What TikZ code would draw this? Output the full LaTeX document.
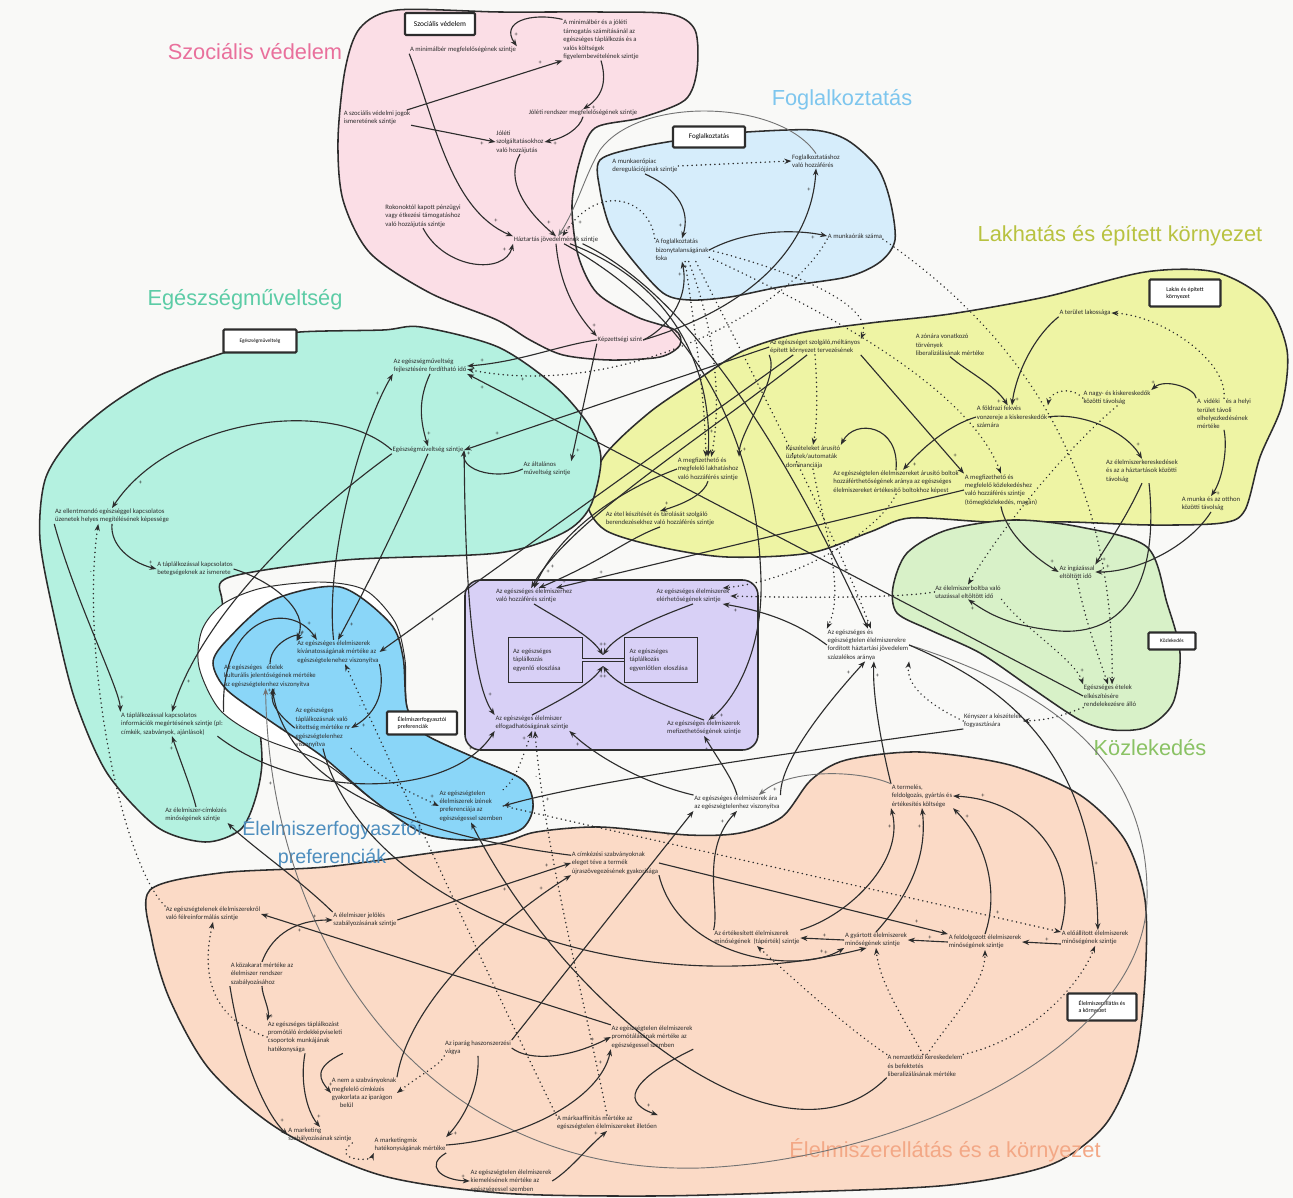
\documentclass[tikz,border=0pt]{standalone}
\usepackage{fontspec}
\setmainfont{Carlito}
\newfontfamily\ttlfont{Liberation Sans}
\usetikzlibrary{arrows.meta}

\definecolor{bgc}{RGB}{249,249,247}
\definecolor{pinkreg}{RGB}{251,222,230}
\definecolor{fogreg}{RGB}{214,237,251}
\definecolor{lakreg}{RGB}{238,244,164}
\definecolor{kozreg}{RGB}{216,241,200}
\definecolor{egreg}{RGB}{180,241,224}
\definecolor{prefreg}{RGB}{138,214,248}
\definecolor{purreg}{RGB}{216,208,246}
\definecolor{ellreg}{RGB}{251,218,198}
\definecolor{pinkttl}{RGB}{233,112,156}
\definecolor{fogttl}{RGB}{126,198,238}
\definecolor{lakttl}{RGB}{184,194,64}
\definecolor{egttl}{RGB}{92,204,166}
\definecolor{prefttl}{RGB}{78,142,190}
\definecolor{kozttl}{RGB}{138,194,100}
\definecolor{ellttl}{RGB}{243,168,134}
\definecolor{ink}{RGB}{45,45,45}

\newcommand\nfont{\fontsize{9.5}{12}\selectfont}
\newcommand\tfont{\ttlfont\fontsize{31}{41}\selectfont}
\newcommand\sgfont{\fontsize{9}{9}\selectfont}

\tikzset{
  nd/.style={font=\nfont, align=left, inner sep=1pt, text=ink},
  ttl/.style={font=\tfont, align=center, inner sep=0pt},
  lbl/.style={draw=ink, line width=3pt, fill=white, rounded corners=1.5pt, font=\fontsize{9}{11}\selectfont, align=left, inner sep=3pt},
  reg/.style={draw=ink, line width=2.2pt},
  ar/.style={draw=ink, line width=1.6pt, -{Stealth[length=10pt,width=7.5pt]}},
  dar/.style={ar, dash pattern=on 0.01pt off 6.5pt, line cap=round, line width=2.4pt},
  gar/.style={ar, draw=black!55, line width=1.3pt},
  sg/.style={pos=.88, auto, font=\sgfont, inner sep=2pt, text=ink},
}

\begin{document}
\begin{tikzpicture}[x=0.05cm, y=-0.05cm]
	%%%%% START %%%%%
	\useasboundingbox (0,0) rectangle (1293,1198);
	\fill[bgc] (0,0) rectangle (1293,1198);

	%%%%% regions %%%%%
	\draw[reg, fill=pinkreg] plot[smooth cycle] coordinates {(397,10) (500,12) (600,12) (670,14) (695,30) (697,70) (685,100) (640,118) (595,128) (580,160) (572,205) (578,255) (597,293) (637,317) (675,330) (680,345) (660,357) (610,360) (563,355) (530,340) (497,320) (430,293) (370,253) (343,200) (338,140) (345,70) (360,28)};
	\draw[reg, fill=fogreg] plot[smooth cycle] coordinates {(600,160) (640,147) (700,137) (747,132) (813,130) (847,140) (877,167) (890,200) (895,240) (880,262) (847,277) (780,287) (730,297) (690,300) (663,293) (630,257) (610,227) (600,190)};
	\draw[reg, fill=lakreg] plot[smooth cycle] coordinates {(587,500) (605,455) (650,412) (700,378) (745,350) (800,333) (870,323) (950,314) (1045,297) (1145,272) (1215,272) (1265,300) (1287,350) (1282,405) (1260,457) (1245,510) (1222,523) (1150,525) (1070,522) (990,522) (910,518) (870,532) (810,553) (727,557) (660,547) (605,530)};
	\draw[reg, fill=kozreg] plot[smooth cycle] coordinates {(893,587) (907,553) (947,530) (1013,520) (1080,527) (1147,547) (1167,603) (1180,653) (1173,703) (1147,727) (1113,730) (1080,720) (1030,687) (980,653) (930,630) (897,613)};
	\draw[reg, fill=ellreg] plot[smooth cycle] coordinates {(150,890) (220,873) (325,867) (431,853) (501,843) (536,832) (600,827) (688,835) (740,833) (782,817) (811,780) (846,760) (920,752) (1010,765) (1080,795) (1125,840) (1145,900) (1145,980) (1135,1060) (1105,1125) (1050,1165) (950,1185) (800,1192) (650,1196) (500,1193) (380,1175) (280,1130) (210,1070) (170,1000) (152,940)};
	\draw[reg, fill=egreg] plot[smooth cycle] coordinates {(226,352) (260,340) (300,332) (383,330) (421,327) (498,347) (556,387) (590,427) (601,460) (590,507) (563,533) (498,553) (345,560) (230,577) (222,600) (235,650) (255,700) (262,760) (255,800) (240,830) (205,842) (157,827) (107,773) (75,700) (55,620) (40,540) (45,480) (70,440) (110,405) (160,375)};
	\draw[reg, line width=1.4pt, fill=white] plot[smooth cycle] coordinates {(199,667) (202,630) (223,604) (262,588) (320,582) (365,590) (395,622) (405,660) (407,707) (423,733) (473,757) (523,780) (533,807) (520,830) (473,840) (423,833) (373,800) (323,762) (262,738) (220,710)};
	\draw[reg, fill=prefreg] plot[smooth cycle] coordinates {(213,663) (227,640) (273,600) (340,587) (390,623) (403,657) (407,707) (423,733) (473,757) (523,780) (533,807) (520,830) (473,840) (423,833) (373,800) (323,757) (273,723) (227,690)};
	\draw[reg, fill=purreg, rounded corners=22pt] (465,580) rectangle (758,750);

	%%%%% titles %%%%%
	\node[ttl, text=pinkttl] (tSV) at (255,52) {Szociális védelem};
	\node[ttl, text=fogttl] (tF) at (842,100) {Foglalkoztatás};
	\node[ttl, text=lakttl] (tL) at (1120,236) {Lakhatás és épített környezet};
	\node[ttl, text=egttl] (tE) at (245,300) {Egészségműveltség};
	\node[ttl, text=prefttl, font=\ttlfont\fontsize{28}{41}\selectfont] (tB) at (332,843) {Élelmiszerfogyasztói\\preferenciák};
	\node[ttl, text=kozttl] (tK) at (1150,748) {Közlekedés};
	\node[ttl, text=ellttl] (tQ) at (945,1150) {Élelmiszerellátás és a környezet};

	%%%%% boxes %%%%%
	\node[lbl, font=\fontsize{10.5}{12}\selectfont, minimum width=3.5cm, minimum height=1.1cm] (boxSV) at (440,24) {Szociális védelem};
	\node[lbl, font=\fontsize{10}{12}\selectfont, minimum width=3.6cm, minimum height=1.05cm] (boxF) at (709,137) {Foglalkoztatás};
	\node[lbl, font=\fontsize{8.5}{10}\selectfont, minimum width=3.55cm, minimum height=1.35cm] (boxL) at (1185,293) {Lakás és épített\\környezet};
	\node[lbl, font=\fontsize{7.5}{9}\selectfont, minimum width=3.65cm, minimum height=1.15cm] (boxE) at (260,341) {Egészségműveltség};
	\node[lbl, font=\fontsize{8.5}{10}\selectfont, minimum width=3.5cm, minimum height=1.15cm] (boxB) at (422,723) {Élelmiszerfogyasztói\\preferenciák};
	\node[lbl, font=\fontsize{7.5}{9}\selectfont, minimum width=2.35cm, minimum height=0.85cm] (boxK) at (1172,641) {Közlekedés};
	\node[lbl, font=\fontsize{8.5}{10}\selectfont, minimum width=3.45cm, minimum height=1.35cm] (boxQ) at (1102,1007) {Élelmiszerellátás és\\a környezet};

	%%%%% Szociális védelem %%%%%
	\node[nd] (s1) at (463,50) {A minimálbér megfelelőségének szintje};
	\node[nd] (s2) at (601,40) {A minimálbér és a jóléti\\támogatás számításánál az\\egészséges táplálkozás és a\\valós költségek\\figyelembevételének szintje};
	\node[nd] (s3) at (377,118) {A szociális védelmi jogok\\ismeretének szintje};
	\node[nd] (s4) at (583,113) {Jóléti rendszer megfelelőségének szintje};
	\node[nd] (s5) at (520,142) {Jóléti\\szolgáltatásokhoz\\való hozzájutás};
	\node[nd] (s6) at (423,216) {Rokonoktól kapott pénzügyi\\vagy étkezési támogatáshoz\\való hozzájutás szintje};
	\node[nd] (s7) at (556,240) {Háztartás jövedelmének szintje};
	\node[nd] (s8) at (620,340) {Képzettségi szint};

	%%%%% Foglalkoztatás %%%%%
	\node[nd] (f1) at (645,166) {A munkaerőpiac\\deregulációjának szintje};
	\node[nd] (f2) at (816,161) {Foglalkoztatáshoz\\való hozzáférés};
	\node[nd] (f3) at (682,250) {A foglalkoztatás\\bizonytalanságának\\foka};
	\node[nd] (f4) at (855,236) {A munkaórák száma};

	%%%%% Lakhatás %%%%%
	\node[nd] (l1) at (1085,313) {A terület lakossága};
	\node[nd] (l2) at (815,347) {Az egészséget szolgáló,méltányos\\épített környezet tervezésének};
	\node[nd] (l3) at (950,345) {A zónára vonatkozó\\törvények\\liberalizálásának mértéke};
	\node[nd] (l4) at (1012,417) {A földrazi fekvés\\vonzereje a kiskereskedők\\számára};
	\node[nd] (l5) at (1117,398) {A nagy- és kiskereskedők\\közötti távolság};
	\node[nd] (l6) at (1224,414) {A~~vidéki~~~~és a helyi\\terület távoli\\elhelyezkedésének\\mértéke};
	\node[nd] (l7) at (813,457) {Készételeket árusító\\üzletek/automaták\\dominanciája};
	\node[nd] (l8) at (896,482) {Az egészségtelen élelmiszereket árusító boltok\\hozzáférthetőségének aránya az egészséges\\élelmiszereket értékesítő boltokhoz képest};
	\node[nd] (l9) at (1001,490) {A megfizethető és\\megfelelő közlekedéshez\\való hozzáférés szintje\\(tömegközlekedés, magán)};
	\node[nd] (l10) at (1142,471) {Az élelmiszerkereskedések\\és az a háztartások közötti\\távolság};
	\node[nd] (l11) at (1211,504) {A munka és az otthon\\közötti távolság};
	\node[nd] (l12) at (708,469) {A megfizethető és\\megfelelő lakhatáshoz\\való hozzáférés szintje};
	\node[nd] (l13) at (660,519) {Az étel készítését és tárolását szolgáló\\berendezésekhez való hozzáférés szintje};

	%%%%% Egészségműveltség %%%%%
	\node[nd] (e1) at (430,366) {Az egészségműveltség\\fejlesztésére fordítható idő};
	\node[nd] (e2) at (428,450) {Egészségműveltség szintje};
	\node[nd] (e3) at (547,469) {Az általános\\műveltség szintje};
	\node[nd] (e4) at (112,516) {Az ellentmondó egészséggel kapcsolatos\\üzenetek helyes megítélésének képessége};
	\node[nd] (e5) at (195,569) {A táplálkozással kapcsolatos\\betegségeknek az ismerete};
	\node[nd] (e6) at (172,724) {A táplálkozással kapcsolatos\\információk megértésének szintje (pl:\\címkék, szabványok, ajánlások)};
	\node[nd] (e7) at (196,815) {Az élelmiszer-címkézés\\minőségének szintje};

	%%%%% Élelmiszerfogyasztói preferenciák %%%%%
	\node[nd] (b1) at (338,652) {Az egészséges élelmiszerek\\kívánatosságának mértéke az\\egészségtelenehez viszonyítva};
	\node[nd] (b2) at (270,676) {Az egészséges~~~ételek\\kulturális jelentőségének mértéke\\az egészségtelenhez viszonyítva};
	\node[nd] (b3) at (323,728) {Az egészséges\\táplálkozásnak való\\kitettség mértéke nr\\egészségtelenhez\\viszonyítva};
	\node[nd] (b4) at (471,806) {Az egészségtelen\\élelmiszerek ízének\\preferenciája az\\egészségessel szemben};

	%%%%% kozep %%%%%
	\node[nd] (p1) at (534,596) {Az egészséges élelmiszerhez\\való hozzáférés szintje};
	\node[nd] (p2) at (693,596) {Az egészséges élelmiszerek\\elérhetőségének szintje};
	\node[nd] (p3) at (532,723) {Az egészséges élelmiszer\\elfogadhatóságának szintje};
	\node[nd] (p4) at (704,728) {Az egészséges élelmiszerek\\mefizethetőségének szintje};
	\node[nd, draw=ink, line width=1.2pt, text width=3.2cm, inner xsep=0.25cm, inner ysep=0pt, minimum height=2.25cm] (pa) at (545,660) {Az egészséges\\táplálkozás\\egyenlő eloszlása};
	\node[nd, draw=ink, line width=1.2pt, text width=3.15cm, inner xsep=0.25cm, inner ysep=0pt, minimum height=2.25cm] (pb) at (661,660) {Az egészséges\\táplálkozás\\egyenlőtlen eloszlása};
	\coordinate (pcu) at (603,655);
	\coordinate (pcd) at (603,666);
	\draw[ink, double=purreg, double distance=3.5pt, line width=1pt] (pa.east) -- (pb.west);

	%%%%% Közlekedés %%%%%
	\node[nd] (g1) at (1077,572) {Az ingázással\\eltöltött idő};
	\node[nd] (g2) at (968,592) {Az élelmiszerboltba való\\utazással eltöltött idő};
	\node[nd] (g3) at (1110,696) {Egészséges ételek\\elkészítésére\\rendelekezésre álló};
	\node[nd] (k1) at (993,721) {Kényszer a készételek\\fogyasztására};
	\node[nd] (x1) at (868,645) {Az egészséges és\\egészségtelen élelmiszerekre\\fordított háztartási jövedelem\\százalékos aránya};

	%%%%% Élelmiszerellátás %%%%%
	\node[nd] (q1) at (737,803) {Az egészséges élelmiszerek ára\\az egészségtelenhez viszonyítva};
	\node[nd] (q2) at (922,796) {A termelés,\\feldolgozás, gyártás és\\értékesítés költsége};
	\node[nd] (q3) at (615,863) {A címkézési szabványoknak\\eleget téve a termék\\újraszövegezésének gyakorisága};
	\node[nd] (q4) at (757,938) {Az értékesített élelmiszerek\\minőségének~~(tápérték) szintje};
	\node[nd] (q5) at (876,940) {A gyártott élelmiszerek\\minőségének szintje};
	\node[nd] (q6) at (985,942) {A feldolgozott élelmiszerek\\minőségének szintje};
	\node[nd] (q7) at (1095,938) {A előállított élelmiszerek\\minőségének szintje};
	\node[nd] (q8) at (925,1066) {A nemzetközi kereskedelem\\és befektetés\\liberalizálásának mértéke};
	\node[nd] (q9) at (652,1037) {Az egészségtelen élelmiszerek\\promótálásának mértéke az\\egészségessel szemben};
	\node[nd] (r1) at (213,914) {Az egészségtelenek élelmiszerekről\\való félreinformálás szintje};
	\node[nd] (r2) at (365,920) {A élelmiszer jelölés\\szabályozásának szintje};
	\node[nd] (r3) at (262,974) {A közakarat mértéke az\\élelmiszer rendszer\\szabályozásához};
	\node[nd] (r4) at (305,1037) {Az egészséges táplálkozást\\promótáló érdekképviseleti\\csoportok munkájának\\hatékonysága};
	\node[nd] (r5) at (478,1048) {Az iparág haszonszerzési\\vágya};
	\node[nd] (r6) at (364,1093) {A nem a szabványoknak\\megfelelő címkézés\\gyakorlata az iparágon\\\hspace{1.2em}belül};
	\node[nd] (r7) at (320,1135) {A marketing\\szabályozásának szintje};
	\node[nd] (r8) at (410,1145) {A marketingmix\\hatékonyságának mértéke};
	\node[nd] (r9) at (607,1123) {A márkaaffinitás mértéke az\\egészségtelen élelmiszereket illetően};
	\node[nd] (r10) at (511,1181) {Az egészségtelen élelmiszerek\\kiemelésének mértéke az\\egészségessel szemben};

	%%%%% connectors: szocialis %%%%%
	\draw[ar] (s2.north west) .. controls (530,12) and (500,22) .. (s1.north east) node[sg]{+};
	\draw[ar] (s3.15) -- (s2.south west) node[sg]{+};
	\draw[ar] (s3.-12) -- (s5.west) node[sg,swap]{+};
	\draw[ar] (s2.south) .. controls (606,78) and (605,95) .. (s4.north) node[sg]{+};
	\draw[ar] (s4.south) .. controls (580,128) and (565,138) .. (s5.east) node[sg]{+};
	\draw[ar] (s1.south west) .. controls (435,120) and (450,210) .. (s7.north west) node[sg]{+};
	\draw[ar] (s5.south) .. controls (505,180) and (525,210) .. (s7.north) node[sg]{+};
	\draw[ar] (s6.south) .. controls (445,270) and (505,275) .. (s7.south west) node[sg]{+};
	\draw[gar] (f2.north) .. controls (780,100) and (640,95) .. (600,150) .. controls (585,175) and (578,205) .. (s7.60) node[sg]{+};
	\draw[dar] (f3.north west) .. controls (650,200) and (600,180) .. (s7.30) node[sg]{+};
	\draw[ar] (s7.south) .. controls (560,290) and (580,318) .. (s8.north west) node[sg]{+};
	\draw[ar] (s7.-15) .. controls (690,290) and (712,390) .. (l12.north) node[sg]{+};
	\draw[ar] (s7.-25) .. controls (720,330) and (758,470) .. (761,580) .. controls (763,650) and (735,700) .. (p4.60) node[sg]{+};
	\draw[ar] (s7.-8) .. controls (700,300) and (800,480) .. (x1.north) node[sg]{+};
	\draw[ar] (s8.east) .. controls (665,330) and (690,300) .. (f3.south) node[sg]{+};
	\draw[ar] (s8.east) .. controls (760,305) and (812,240) .. (f2.south) node[sg]{+};
	\draw[ar] (s8.west) .. controls (560,345) and (520,362) .. (e1.east) node[sg,swap]{+};
	\draw[ar] (s8.south west) -- (e3.north east) node[sg]{+};

	%%%%% connectors: foglalkoztatas %%%%%
	\draw[dar] (f1.east) -- (f2.west);
	\draw[ar] (f1.south) .. controls (680,190) and (690,212) .. (f3.north) node[sg,swap]{+};
	\draw[ar] (f3.east) .. controls (750,228) and (800,230) .. (f4.west) node[sg,swap]{+};
	\draw[dar] (f3.-75) .. controls (695,330) and (705,400) .. (l12.100);
	\draw[dar] (f3.-60) .. controls (715,330) and (722,400) .. (l12.75);
	\draw[dar] (f3.-40) .. controls (740,350) and (830,520) .. (x1.80);
	\draw[dar] (f3.-15) .. controls (800,300) and (965,380) .. (l9.north);
	\draw[dar] (f3.east) .. controls (790,270) and (875,305) .. (l2.north east);
	\draw[dar] (f4.south west) .. controls (790,310) and (620,400) .. (e1.-5) node[sg]{+};
	\draw[dar] (f4.south east) .. controls (1000,320) and (1115,450) .. (g3.80);

	%%%%% connectors: lakhatas %%%%%
	\draw[ar] (l1.south west) .. controls (1030,340) and (1015,380) .. (l4.north) node[sg]{+};
	\draw[ar] (l3.south) .. controls (965,370) and (995,385) .. (l4.110) node[sg,swap]{+};
	\draw[dar] (l5.west) .. controls (1070,385) and (1050,392) .. (l4.north east);
	\draw[dar] (l6.north) .. controls (1228,360) and (1160,315) .. (l1.east);
	\draw[ar] (l6.north west) .. controls (1195,388) and (1165,378) .. (l5.north east) node[sg,swap]{+};
	\draw[ar] (l6.south) .. controls (1228,450) and (1222,480) .. (l11.north) node[sg]{+};
	\draw[ar] (l4.west) .. controls (950,425) and (925,445) .. (l8.60) node[sg]{+};
	\draw[ar] (l4.east) .. controls (1080,412) and (1125,430) .. (l10.north) node[sg]{+};
	\draw[ar] (l8.north) .. controls (900,425) and (855,418) .. (l7.north east);
	\draw[dar] (l2.south) .. controls (817,380) and (818,420) .. (l7.north);
	\draw[ar] (l2.south east) -- (l9.north west) node[sg]{+};
	\draw[ar] (l2.south west) .. controls (780,380) and (740,430) .. (l12.north east) node[sg]{+};
	\draw[ar] (l12.south) .. controls (705,492) and (690,502) .. (l13.north) node[sg,swap]{+};
	\draw[ar] (l2.west) -- (e2.east) node[sg,swap]{+};
	\draw[ar] (l2.200) -- (b1.east) node[sg]{+};
	\draw[ar] (l2.225) .. controls (700,440) and (570,520) .. (p1.110) node[sg]{+};
	\draw[ar] (l12.west) .. controls (620,490) and (560,530) .. (p1.north) node[sg]{+};
	\draw[ar] (l13.south) .. controls (625,540) and (605,560) .. (p1.60) node[sg]{+};
	\draw[ar] (l9.west) -- (p1.20) node[sg,swap]{+};

	%%%%% connectors: kozlekedes %%%%%
	\draw[ar] (l9.south) .. controls (1005,530) and (1030,555) .. (g1.west) node[sg]{+};
	\draw[ar] (l10.south) .. controls (1125,520) and (1110,540) .. (g1.north east) node[sg]{+};
	\draw[ar] (l11.south) .. controls (1190,545) and (1140,572) .. (g1.east) node[sg,swap]{+};
	\draw[ar] (l10.-60) .. controls (1160,590) and (1120,640) .. (1050,630) .. controls (1010,625) and (990,615) .. (g2.south) node[sg]{+};
	\draw[dar] (l5.south) .. controls (1065,450) and (1000,530) .. (g2.north);
	\draw[dar] (g1.south) .. controls (1085,620) and (1098,655) .. (g3.100);
	\draw[dar] (g2.south east) .. controls (1020,625) and (1075,660) .. (g3.north west) node[sg]{+};
	\draw[dar] (g3.south west) .. controls (1070,712) and (1055,720) .. (k1.east);
	\draw[ar] (g3.west) -- (e1.south east) node[sg,pos=.97]{+};
	\draw[dar] (l7.south) .. controls (825,530) and (845,590) .. (x1.north west);
	\draw[dar] (k1.west) .. controls (940,710) and (905,690) .. (x1.south east);
	\draw[ar] (k1.south west) .. controls (850,745) and (600,778) .. (b4.east) node[sg]{+};
	\draw[ar] (x1.west) .. controls (800,625) and (770,612) .. (p2.-15) node[sg]{+};
	\draw[dar] (l8.south) .. controls (880,530) and (800,580) .. (p2.15);
	\draw[dar] (g2.west) .. controls (900,598) and (800,598) .. (p2.east);
	\draw[ar] (q1.north east) .. controls (780,760) and (830,700) .. (x1.260) node[sg]{+};
	\draw[ar] (q2.north west) .. controls (885,760) and (872,700) .. (x1.290) node[sg,swap]{+};
	\draw[gar] (x1.east) .. controls (1050,690) and (1150,760) .. (1147,900) .. controls (1142,1050) and (900,1160) .. (700,1168) .. controls (430,1175) and (270,950) .. (b2.-110) node[sg]{+};
	\draw[ar] (x1.east) .. controls (990,680) and (1095,740) .. (q7.70) node[sg]{+};

	%%%%% connectors: kozep %%%%%
	\draw[ar] (p1.south) .. controls (560,620) and (590,635) .. (pcu) node[sg]{+};
	\draw[ar] (p2.south) .. controls (650,620) and (616,635) .. (pcu) node[sg,swap]{+};
	\draw[ar] (p3.north) .. controls (560,700) and (590,685) .. (pcd) node[sg,swap]{+};
	\draw[ar] (p4.north) .. controls (650,700) and (616,685) .. (pcd) node[sg]{+};
	\draw[ar] (e2.south east) .. controls (465,560) and (470,680) .. (p3.north west) node[sg]{+};
	\draw[ar] (e6.-15) .. controls (300,800) and (450,800) .. (p3.south west) node[sg]{+};
	\draw[ar] (q1.north west) .. controls (650,785) and (600,760) .. (p3.south east) node[sg]{+};
	\draw[ar] (q1.north) .. controls (733,780) and (722,765) .. (p4.south) node[sg]{+};
	\draw[dar] (b4.north east) .. controls (515,780) and (520,765) .. (p3.south) node[sg]{+};
	\draw[dar] (r9.north) .. controls (580,980) and (545,850) .. (p3.-70) node[sg]{-};
	\draw[dar] (r9.north west) .. controls (480,960) and (390,760) .. (b1.-60) node[sg]{-};

	%%%%% connectors: egeszsegmuveltseg %%%%%
	\draw[ar] (e1.south) .. controls (418,400) and (420,420) .. (e2.north) node[sg]{+};
	\draw[ar] (e3.west) .. controls (500,480) and (462,472) .. (e2.east) node[sg,swap]{+};
	\draw[ar] (e2.west) .. controls (330,395) and (170,420) .. (e4.north) node[sg]{+};
	\draw[ar] (e4.south) .. controls (110,545) and (130,562) .. (e5.west) node[sg]{+};
	\draw[ar] (e4.south west) .. controls (75,600) and (120,690) .. (e6.north west) node[sg]{+};
	\draw[dar] (r1.north west) .. controls (120,860) and (80,650) .. (e4.-150) node[sg]{-};
	\draw[ar] (e5.east) .. controls (270,580) and (310,610) .. (b1.north west) node[sg]{+};
	\draw[ar] (e2.south) .. controls (400,520) and (365,590) .. (b1.north) node[sg]{+};
	\draw[ar] (b1.110) .. controls (325,560) and (360,430) .. (e1.south west) node[sg]{+};
	\draw[ar] (e2.south west) .. controls (300,520) and (200,620) .. (e6.north) node[sg]{+};
	\draw[ar] (e6.north east) .. controls (220,615) and (290,600) .. (b1.150) node[sg]{+};
	\draw[ar] (e7.north) .. controls (192,790) and (180,760) .. (e6.south) node[sg]{+};
	\draw[ar] (r2.north west) .. controls (300,880) and (250,845) .. (e7.south east) node[sg]{+};
	\draw[ar] (b2.north) .. controls (270,640) and (305,630) .. (b1.165) node[sg]{+};
	\draw[ar] (b3.west) .. controls (285,720) and (268,705) .. (b2.-70) node[sg]{+};
	\draw[ar] (b1.south east) .. controls (385,690) and (378,712) .. (b3.east) node[sg]{+};
	\draw[dar] (b3.south east) .. controls (380,780) and (410,792) .. (b4.west) node[sg]{+};
	\draw[dar] (b4.east) -- (q7.170) node[sg]{+};
	\draw[ar] (q8.south west) .. controls (780,1185) and (560,1000) .. (b4.south) node[sg]{+};
	\draw[ar] (q3.170) .. controls (450,840) and (290,800) .. (b2.-80) node[sg]{+};
	\draw[ar] (b3.south) .. controls (360,900) and (620,1010) .. (q5.220) node[sg,pos=.95]{+};

	%%%%% connectors: elelmiszerellatas %%%%%
	\draw[ar] (q5.west) -- (q4.east) node[sg,swap,pos=.45]{+};
	\draw[ar] (q6.west) -- (q5.east) node[sg,swap,pos=.45]{+};
	\draw[ar] (q7.190) -- (q6.east) node[sg,swap,pos=.45]{+};
	\draw[ar] (q4.north east) .. controls (850,915) and (905,860) .. (q2.south west) node[sg]{+};
	\draw[ar] (q5.north) .. controls (905,900) and (928,860) .. (q2.south) node[sg]{+};
	\draw[ar] (q6.north) .. controls (1000,890) and (985,840) .. (q2.south east) node[sg,swap]{+};
	\draw[ar] (q7.north west) .. controls (1080,860) and (1030,800) .. (q2.east) node[sg,swap]{+};
	\draw[dar] (q8.north west) .. controls (850,1030) and (800,985) .. (q4.south);
	\draw[dar] (q8.100) .. controls (905,1020) and (880,985) .. (q5.south);
	\draw[dar] (q8.80) .. controls (950,1020) and (985,985) .. (q6.south);
	\draw[dar] (q8.north east) .. controls (1030,1040) and (1080,985) .. (q7.south);
	\draw[gar] (q2.north west) .. controls (860,770) and (790,768) .. (q1.20) node[sg]{+};
	\draw[ar] (q4.north west) .. controls (720,905) and (700,850) .. (q1.south) node[sg]{+};
	\draw[ar] (q3.east) -- (q6.north west) node[sg]{+};
	\draw[ar] (q3.south east) .. controls (680,960) and (800,975) .. (q5.south west) node[sg]{+};
	\draw[ar] (r5.north east) -- (q1.south west) node[sg]{+};
	\draw[ar] (r2.east) -- (q3.west) node[sg]{+};
	\draw[ar] (r6.north east) .. controls (410,1000) and (500,920) .. (q3.south west) node[sg]{+};
	\draw[ar] (r3.north) .. controls (270,940) and (290,920) .. (r2.west) node[sg]{+};
	\draw[ar] (r3.south) .. controls (262,995) and (270,1010) .. (r4.north west) node[sg]{+};
	\draw[ar] (r3.south west) .. controls (240,1050) and (262,1110) .. (r7.west) node[sg]{+};
	\draw[ar] (r4.south) .. controls (300,1080) and (306,1110) .. (r7.north) node[sg]{+};
	\draw[ar] (r4.south east) .. controls (312,1068) and (320,1080) .. (r6.west) node[sg]{+};
	\draw[dar] (r4.west) .. controls (215,1020) and (200,980) .. (r1.south);
	\draw[dar] (r7.south east) .. controls (330,1160) and (370,1162) .. (r8.south west);
	\draw[dar] (r5.south west) .. controls (440,1065) and (420,1075) .. (r6.east);
	\draw[ar] (r5.south) .. controls (480,1090) and (462,1120) .. (r8.north east) node[sg]{+};
	\draw[ar] (r5.east) .. controls (530,1062) and (570,1058) .. (q9.west) node[sg]{+};
	\draw[ar] (r8.east) .. controls (520,1140) and (600,1100) .. (q9.south west) node[sg]{+};
	\draw[ar] (r8.south east) .. controls (425,1165) and (440,1180) .. (r10.west) node[sg]{+};
	\draw[ar] (r10.east) .. controls (570,1170) and (585,1150) .. (r9.south) node[sg]{+};
	\draw[ar] (q9.south east) .. controls (640,1075) and (615,1100) .. (r9.north east) node[sg]{+};
	\draw[ar] (q9.north west) -- (r1.east) node[sg]{+};
	%%%%% END %%%%%
\end{tikzpicture}
\end{document}
